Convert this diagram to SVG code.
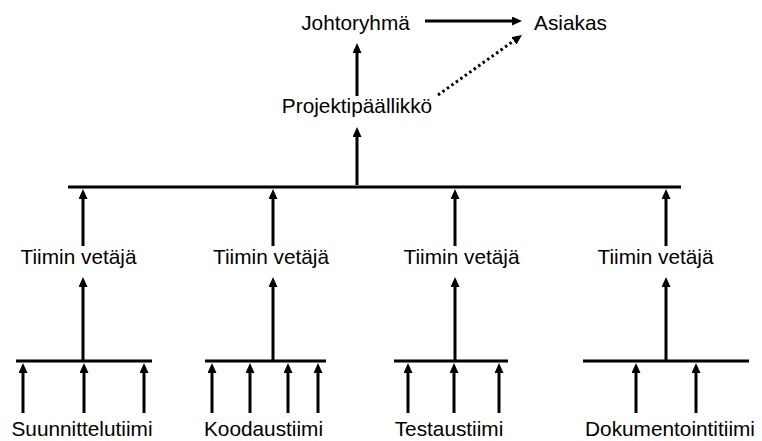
<svg xmlns="http://www.w3.org/2000/svg" width="762" height="441" viewBox="0 0 762 441">
  <defs>
    <marker id="head" markerUnits="userSpaceOnUse" markerWidth="12" markerHeight="10" refX="2" refY="4.5" orient="auto">
      <path d="M0,0 L10,4.5 L0,9 Z" fill="#000"/>
    </marker>
    <style>
      text { font-family: "Liberation Sans", Arial, sans-serif; font-size: 20.8px; fill: #000; text-anchor: middle; }
      .bar { stroke: #000; stroke-width: 3; fill: none; }
      .arrow { stroke: #000; stroke-width: 3; fill: none; marker-end: url(#head); }
      .dotted { stroke: #000; stroke-width: 3; fill: none; stroke-dasharray: 2.5 3; marker-end: url(#head); }
    </style>
  </defs>
  <rect width="762" height="441" fill="#fff"/>

  <!-- connectors -->
  <g id="connectors">
    <line class="arrow" x1="425" y1="21" x2="514" y2="21"/>
    <line class="dotted" x1="438" y1="95" x2="515.5" y2="39.6"/>
    <line class="arrow" x1="357" y1="96" x2="357" y2="51"/>
    <line class="arrow" x1="357" y1="185" x2="357" y2="135"/>
    <line class="bar" x1="68" y1="187" x2="681" y2="187"/>

    <line class="arrow" x1="83" y1="246" x2="83" y2="197"/>
    <line class="arrow" x1="273" y1="246" x2="273" y2="197"/>
    <line class="arrow" x1="455" y1="246" x2="455" y2="197"/>
    <line class="arrow" x1="666" y1="246" x2="666" y2="197"/>

    <line class="arrow" x1="83" y1="360" x2="83" y2="285"/>
    <line class="arrow" x1="273" y1="360" x2="273" y2="285"/>
    <line class="arrow" x1="455" y1="360" x2="455" y2="285"/>
    <line class="arrow" x1="666" y1="360" x2="666" y2="285"/>

    <line class="bar" x1="16" y1="361" x2="152" y2="361"/>
    <line class="bar" x1="205" y1="361" x2="326" y2="361"/>
    <line class="bar" x1="394" y1="361" x2="508" y2="361"/>
    <line class="bar" x1="583" y1="361" x2="749" y2="361"/>

    <line class="arrow" x1="23" y1="413" x2="23" y2="371"/>
    <line class="arrow" x1="84" y1="413" x2="84" y2="371"/>
    <line class="arrow" x1="144" y1="413" x2="144" y2="371"/>

    <line class="arrow" x1="212" y1="413" x2="212" y2="371"/>
    <line class="arrow" x1="250" y1="413" x2="250" y2="371"/>
    <line class="arrow" x1="288" y1="413" x2="288" y2="371"/>
    <line class="arrow" x1="318" y1="413" x2="318" y2="371"/>

    <line class="arrow" x1="408" y1="413" x2="408" y2="371"/>
    <line class="arrow" x1="454" y1="413" x2="454" y2="371"/>
    <line class="arrow" x1="499" y1="413" x2="499" y2="371"/>

    <line class="arrow" x1="636" y1="413" x2="636" y2="371"/>
    <line class="arrow" x1="696" y1="413" x2="696" y2="371"/>
  </g>

  <!-- nodes -->
  <g id="johtoryhma"><text x="355.5" y="30">Johtoryhmä</text></g>
  <g id="asiakas"><text x="570.5" y="30">Asiakas</text></g>
  <g id="projektipaallikko"><text x="357" y="113">Projektipäällikkö</text></g>

  <g id="vetaja1"><text x="78.5" y="264">Tiimin vetäjä</text></g>
  <g id="vetaja2"><text x="271" y="264">Tiimin vetäjä</text></g>
  <g id="vetaja3"><text x="461.5" y="264">Tiimin vetäjä</text></g>
  <g id="vetaja4"><text x="655.5" y="264">Tiimin vetäjä</text></g>

  <g id="suunnittelutiimi"><text x="82" y="436">Suunnittelutiimi</text></g>
  <g id="koodaustiimi"><text x="263.5" y="436">Koodaustiimi</text></g>
  <g id="testaustiimi"><text x="449" y="436">Testaustiimi</text></g>
  <g id="dokumentointitiimi"><text x="670" y="436">Dokumentointitiimi</text></g>
</svg>
